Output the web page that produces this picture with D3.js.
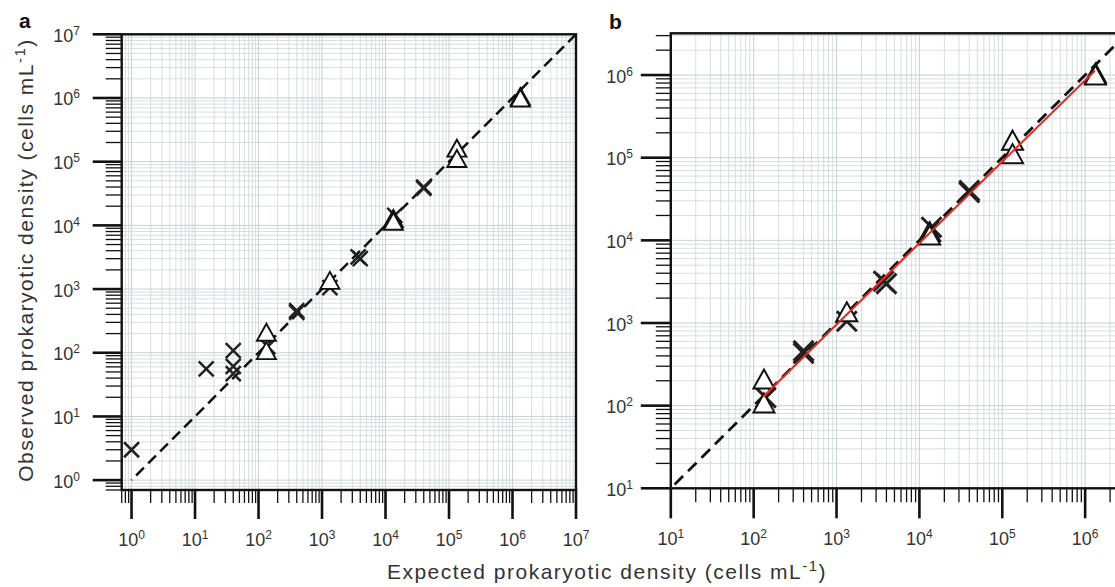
<!DOCTYPE html>
<html><head><meta charset="utf-8">
<script src="https://cdnjs.cloudflare.com/ajax/libs/d3/7.8.5/d3.min.js"></script>
<style>
body{margin:0;background:#fff;}
svg{display:block;font-family:Arial,"Liberation Sans",sans-serif;}
</style>
</head><body>
<svg id="c" width="1115" height="587"></svg>
<script>
// ---------------- data ----------------
const triExpected   = [133, 133, 1330, 13300, 13300, 133000, 133000, 1330000, 1330000];
const triObserved   = [210, 108, 1370, 12800, 11600, 163000, 112000, 1060000, 1000000];
const crossExpected = [1, 15, 40, 40, 40, 140, 400, 400, 1330, 3700, 4000, 14000, 40000, 40000];
const crossObserved = [3, 56, 108, 61, 47, 125, 430, 460, 1050, 3200, 3000, 14400, 38000, 40000];
const fitExpected   = [130, 1310000];
const fitObserved   = [128, 1130000];
const identityA     = [1, 1e7];
const identityB     = [10, 3.2e6];
const limitsA       = [0.7, 1e7];
const limitsB       = [10, 3.2e6];
const majorExpA     = [0, 1, 2, 3, 4, 5, 6, 7];
const majorExpB     = [1, 2, 3, 4, 5, 6];
const panelBMinExpected = 100;
const panelLetters  = ["a", "b"];
const xTitle = ["Expected prokaryotic density (cells mL", "-1", ")"];
const yTitle = ["Observed prokaryotic density (cells mL", "-1", ")"];

// ---------------- layout ----------------
const svg = d3.select("#c");
const panels = [
  {id:"a", left:121.7, right:576, top:34.3, bottom:490, limits:limitsA, majors:majorExpA, identity:identityA,
   minX:0, majorLen:29, minorLenY:16, minorLenX:13, ylabEnd:80, xlabBase:546,
   cross:7.5, crossW:2.5, triW:19, triH:17, triSW:1.9, dash:"11,6", dashW:2.5, letterX:19, letterY:28, fit:false},
  {id:"b", left:670.8, right:1127, top:33.3, bottom:488.3, limits:limitsB, majors:majorExpB, identity:identityB,
   minX:panelBMinExpected, majorLen:30, minorLenY:15, minorLenX:14, ylabEnd:633, xlabBase:545,
   cross:10, crossW:3, triW:21, triH:19, triSW:2, dash:"12,7", dashW:2.8, letterX:609, letterY:29, fit:true}
];

const crosses = crossExpected.map((e,i)=>({e, o:crossObserved[i]}));
const tris = triExpected.map((e,i)=>({e, o:triObserved[i]}));

function ticksFor(lim){
  const out=[];
  const e0=Math.floor(Math.log10(lim[0]))-1, e1=Math.ceil(Math.log10(lim[1]));
  for(let e=e0;e<=e1;e++) for(let k=1;k<=9;k++){
    const v=k*Math.pow(10,e);
    if(v>=lim[0]*0.9999 && v<=lim[1]*1.0001) out.push({v, major:k===1});
  }
  return out;
}

function supLabel(sel, base, exp, baseSize, supSize, rise){
  sel.append("tspan").text(base).attr("font-size",baseSize);
  sel.append("tspan").text(exp).attr("font-size",supSize).attr("dy",-rise);
}

panels.forEach((p,pi)=>{
  const x = d3.scaleLog().domain(p.limits).range([p.left,p.right]);
  const y = d3.scaleLog().domain(p.limits).range([p.bottom,p.top]);
  const g = svg.append("g");
  const clipId = "clip"+p.id;
  svg.append("defs").append("clipPath").attr("id",clipId)
    .append("rect").attr("x",p.left).attr("y",p.top).attr("width",p.right-p.left).attr("height",p.bottom-p.top);
  const ticks = ticksFor(p.limits);

  // grid
  const grid = g.append("g").attr("clip-path",`url(#${clipId})`);
  grid.selectAll("line.gx").data(ticks).join("line")
    .attr("x1",d=>x(d.v)).attr("x2",d=>x(d.v)).attr("y1",p.top).attr("y2",p.bottom)
    .attr("stroke",d=>d.major?"#c4c9ca":"#d5d9da").attr("stroke-width",0.9);
  grid.selectAll("line.gy").data(ticks).join("line")
    .attr("y1",d=>y(d.v)).attr("y2",d=>y(d.v)).attr("x1",p.left).attr("x2",p.right)
    .attr("stroke",d=>d.major?"#c4c9ca":"#d5d9da").attr("stroke-width",0.9);

  const plot = g.append("g").attr("clip-path",`url(#${clipId})`);
  // identity dashed line (drawn from top-right down)
  plot.append("line")
    .attr("x1",x(p.identity[1])).attr("y1",y(p.identity[1]))
    .attr("x2",x(p.identity[0])).attr("y2",y(p.identity[0]))
    .attr("stroke","#111").attr("stroke-width",p.dashW).attr("stroke-dasharray",p.dash);

  // crosses
  const s=p.cross;
  plot.selectAll("path.cross").data(crosses.filter(d=>d.e>=p.minX)).join("path")
    .attr("d",d=>{const cx=x(d.e), cy=y(d.o);
      return `M${cx-s},${cy-s}L${cx+s},${cy+s}M${cx-s},${cy+s}L${cx+s},${cy-s}`;})
    .attr("stroke","#222").attr("stroke-width",p.crossW).attr("fill","none");

  // triangles
  plot.selectAll("path.tri").data(tris.filter(d=>d.e>=p.minX)).join("path")
    .attr("d",d=>{const cx=x(d.e), cy=y(d.o), w=p.triW/2, h=p.triH/2;
      return `M${cx},${cy-h}L${cx+w},${cy+h}L${cx-w},${cy+h}Z`;})
    .attr("fill","#fff").attr("stroke","#111").attr("stroke-width",p.triSW).attr("stroke-linejoin","miter");

  // regression line
  if(p.fit){
    plot.append("line")
      .attr("x1",x(fitExpected[0])).attr("y1",y(fitObserved[0]))
      .attr("x2",x(fitExpected[1])).attr("y2",y(fitObserved[1]))
      .attr("stroke","#e8261e").attr("stroke-width",2);
  }

  // frame
  g.append("rect").attr("x",p.left).attr("y",p.top).attr("width",p.right-p.left).attr("height",p.bottom-p.top)
    .attr("fill","none").attr("stroke","#111").attr("stroke-width",2.4);

  // y ticks
  g.selectAll("line.ty").data(ticks).join("line")
    .attr("x1",d=>p.left-(d.major?p.majorLen:p.minorLenY)).attr("x2",p.left)
    .attr("y1",d=>y(d.v)).attr("y2",d=>y(d.v))
    .attr("stroke","#111").attr("stroke-width",d=>d.major?2.6:1.3);
  // x ticks
  g.selectAll("line.tx").data(ticks).join("line")
    .attr("y1",p.bottom).attr("y2",d=>p.bottom+(d.major?p.majorLen:p.minorLenX))
    .attr("x1",d=>x(d.v)).attr("x2",d=>x(d.v))
    .attr("stroke","#111").attr("stroke-width",d=>d.major?2.6:1.3);

  // labels
  p.majors.forEach(e=>{
    const v=Math.pow(10,e);
    const ty=g.append("text").attr("x",p.ylabEnd).attr("y",y(v)+7.5)
      .attr("text-anchor","end").attr("fill","#333");
    supLabel(ty,"10",String(e),18,12,7);
    const tx=g.append("text").attr("x",x(v)).attr("y",p.xlabBase)
      .attr("text-anchor","middle").attr("fill","#333");
    supLabel(tx,"10",String(e),18,12,7);
  });

  svg.append("text").attr("x",p.letterX).attr("y",p.letterY).attr("font-weight","bold")
    .attr("font-size",21).attr("fill","#111").text(panelLetters[pi]);
});

// axis titles
function title(t, parts){
  t.append("tspan").text(parts[0]);
  t.append("tspan").text(parts[1]).attr("font-size",15).attr("dy",-8);
  t.append("tspan").text(parts[2]).attr("dy",8);
}
const xt = svg.append("text").attr("x",607).attr("y",579).attr("text-anchor","middle")
  .attr("font-size",21).attr("letter-spacing",1.5).attr("fill","#333");
title(xt, xTitle);
const yt = svg.append("text").attr("transform","translate(33,260) rotate(-90)").attr("text-anchor","middle")
  .attr("font-size",21).attr("letter-spacing",1.5).attr("fill","#333");
title(yt, yTitle);
</script>
</body></html>
